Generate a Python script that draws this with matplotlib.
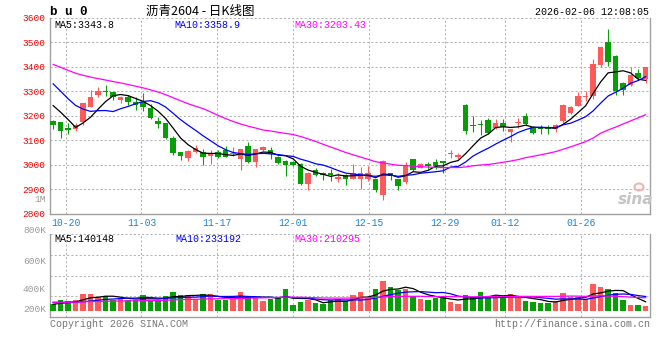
import numpy as np
import pandas as pd
import matplotlib
matplotlib.use("Agg")
import matplotlib.pyplot as plt
from matplotlib.patches import Ellipse

# 沥青2604 daily K, 80 sessions 2025-10-16 .. 2026-02-06
opens = [3180, 3172, 3149, 3146, 3173, 3234, 3286, 3302, 3298, 3263,
         3276, 3257, 3255, 3230, 3180, 3168, 3107, 3051, 3026, 3053,
         3053, 3037, 3051, 3060, 3042, 3022, 3075, 3011, 3060, 3058,
         3031, 3014, 3011, 3003, 2920, 2977, 2967, 2967, 2942, 2957,
         2943, 2943, 2940, 2943, 2877, 2965, 2940, 2930, 3022, 2986,
         3001, 3011, 3014, 3042, 3033, 3245, 3162, 3167, 3184, 3150,
         3171, 3133, 3169, 3199, 3154, 3150, 3150, 3146, 3178, 3210,
         3241, 3276, 3279, 3409, 3500, 3444, 3333, 3324, 3374, 3350]
highs = [3182, 3172, 3168, 3171, 3253, 3304, 3316, 3327, 3298, 3282,
         3283, 3275, 3293, 3249, 3195, 3168, 3115, 3051, 3058, 3079,
         3065, 3060, 3058, 3075, 3070, 3064, 3091, 3065, 3076, 3072,
         3034, 3017, 3014, 3006, 2968, 2988, 2968, 2981, 2965, 2960,
         3001, 2991, 2995, 2943, 3019, 2967, 2942, 3011, 3024, 3005,
         3012, 3022, 3016, 3058, 3049, 3247, 3198, 3184, 3191, 3188,
         3188, 3146, 3191, 3211, 3156, 3160, 3160, 3167, 3248, 3241,
         3298, 3302, 3431, 3485, 3553, 3446, 3336, 3397, 3390, 3398]
lows = [3144, 3108, 3125, 3137, 3160, 3234, 3276, 3282, 3263, 3252,
        3244, 3225, 3218, 3188, 3150, 3106, 3038, 3020, 3015, 3049,
        2999, 3001, 3028, 3030, 3035, 2978, 3008, 2992, 3056, 3024,
        3003, 2954, 2996, 2917, 2897, 2954, 2938, 2934, 2930, 2917,
        2940, 2902, 2934, 2889, 2856, 2938, 2897, 2920, 2975, 2984,
        2981, 2981, 2967, 3028, 3022, 3123, 3133, 3121, 3126, 3144,
        3137, 3092, 3150, 3160, 3126, 3126, 3126, 3133, 3171, 3205,
        3238, 3259, 3270, 3397, 3404, 3286, 3283, 3320, 3344, 3333]
closes = [3161, 3137, 3141, 3160, 3253, 3278, 3302, 3296, 3278, 3278,
          3255, 3244, 3236, 3191, 3164, 3107, 3046, 3034, 3054, 3066,
          3032, 3042, 3032, 3032, 3049, 3062, 3011, 3062, 3072, 3042,
          3005, 2999, 2999, 2920, 2965, 2958, 2958, 2958, 2951, 2940,
          2965, 2965, 2965, 2897, 3014, 2954, 2911, 2997, 2978, 3001,
          2995, 2995, 3005, 3049, 3038, 3137, 3158, 3160, 3130, 3171,
          3154, 3144, 3172, 3164, 3130, 3144, 3144, 3160, 3244, 3236,
          3280, 3282, 3412, 3480, 3421, 3299, 3306, 3367, 3352, 3397]
# volume, thousand lots
volumes_k = [109, 172, 156, 172, 265, 265, 218, 234, 172, 187,
             172, 172, 250, 172, 172, 234, 296, 250, 250, 187,
             265, 265, 172, 172, 187, 296, 218, 218, 156, 187,
             218, 343, 94, 140, 172, 125, 109, 172, 187, 156,
             250, 296, 203, 343, 468, 374, 328, 343, 234, 187,
             172, 203, 234, 140, 109, 250, 218, 296, 234, 234,
             203, 265, 203, 156, 140, 125, 125, 156, 281, 218,
             218, 187, 421, 374, 343, 281, 172, 94, 94, 78]

# sessions before 10-16, backed out of where the MA lines start at the left edge
prior_close = [3490, 3510, 3520, 3505, 3495, 3490, 3470, 3460, 3455, 3450,
               3445, 3440, 3440, 3430, 3425, 3420, 3415, 3410, 3380, 3330,
               3440, 3450, 3430, 3405, 3370, 3272, 3291, 3320, 3161]
prior_vol_k = [132, 138, 130, 135, 140, 128, 136, 134, 131, 139,
               137, 133, 135, 130, 136, 138, 134, 132, 137, 135,
               166, 160, 170, 158, 167, 104, 100, 110, 106]

date_idx = [2, 12, 22, 32, 42, 52, 60, 70]
date_labels = ["10-20", "11-03", "11-17", "12-01", "12-15", "12-29", "01-12", "01-26"]
price_ticks = [2800, 2900, 3000, 3100, 3200, 3300, 3400, 3500, 3600]

UP, DOWN = "#ff5a5a", "#06a006"
GRID = "#b4b4b4"
EDGE = "#a0a0a0"
MONO = "Liberation Mono"
plt.rcParams["font.family"] = [MONO, "DejaVu Sans"]

W, H = 660, 360
fig = plt.figure(figsize=(6.6, 3.6), dpi=100)


def box(x0, y0, x1, y1):
    return [x0 / W, 1 - y1 / H, (x1 - x0) / W, (y1 - y0) / H]


def txt(x, y, s, **kw):
    kw.setdefault("va", "center")
    fig.text(x / W, 1 - y / H, s, **kw)


o, h, l, c = map(np.array, (opens, highs, lows, closes))
vol = np.array(volumes_k) * 1000
n = len(c)
xi = np.arange(n) + 0.42
col = np.where(c >= o, UP, DOWN)

# sina's date grid runs a touch wider than the candle step
grid_x = [0.07 + 1.0104 * k for k in date_idx]

# ---- price panel
ax = fig.add_axes(box(50, 17.8, 650, 213.5))
ax.vlines(xi, l, h, colors=col, lw=0.8, zorder=3)
ax.bar(xi, np.maximum(np.abs(c - o), 3), width=0.75, bottom=np.minimum(o, c),
       color=col, lw=0, zorder=3)

cs = pd.Series(np.r_[prior_close, closes], dtype=float)
for k, mc in ((5, "black"), (10, "#0000ff"), (30, "#ff00ff")):
    ma = cs.rolling(k).mean().to_numpy()[len(prior_close):]
    ax.plot(xi, ma, color=mc, lw=0.9, zorder=4)

ax.set_xlim(0, 80)
ax.set_ylim(2800, 3600)
ax.set_xticks(grid_x, date_labels)
ax.set_yticks(price_ticks)
ax.tick_params(axis="x", length=0, pad=3.5, labelsize=7, labelcolor="#1a86d6")
ax.tick_params(axis="y", length=0, pad=3.5, labelsize=6.8, labelcolor="#ee0000")
ax.grid(True, color=GRID, lw=0.75, ls=(0, (2, 2)))
for gl in ax.get_ygridlines():
    gl.set_clip_on(False)
ax.spines["top"].set_visible(False)
for s in ("left", "right", "bottom"):
    ax.spines[s].set_color(EDGE)
    ax.spines[s].set_linewidth(1)

# ---- volume panel
axv = fig.add_axes(box(50, 234, 650, 317))
axv.bar(xi, vol, width=0.75, color=col, lw=0, zorder=3)
vs = pd.Series(np.r_[prior_vol_k, volumes_k], dtype=float) * 1000
for k, mc in ((5, "black"), (10, "#0000ff"), (30, "#ff00ff")):
    ma = vs.rolling(k).mean().to_numpy()[len(prior_vol_k):]
    axv.plot(xi, ma, color=mc, lw=0.9, zorder=4)

vlo, vhi = -93600, 1201200
axv.set_xlim(0, 80)
axv.set_ylim(vlo, vhi)
axv.set_xticks(grid_x, [])
axv.set_yticks([vlo + f * (vhi - vlo) for f in (0.25, 0.5, 0.75, 1.0)], [])
axv.tick_params(length=0)
axv.grid(True, color=GRID, lw=0.75, ls=(0, (2, 2)))
for gl in axv.get_ygridlines():
    gl.set_clip_on(False)
axv.spines["top"].set_visible(False)
for s in ("left", "right", "bottom"):
    axv.spines[s].set_color(EDGE)
    axv.spines[s].set_linewidth(1)

# ---- texts
txt(50, 12, "b u 0", fontsize=9, fontweight="bold", color="black")
txt(200, 11, "沥青2604 - 日K线图", fontsize=9, ha="center",
    family=["Noto Sans CJK SC", "DejaVu Sans"])
txt(649, 12, "2026-02-06 12:08:05", fontsize=7.2, ha="right", color="black")

txt(54, 24.5, "MA5:3343.8", fontsize=7.2, color="black")
txt(174, 24.5, "MA10:3358.9", fontsize=7.2, color="#0000ff")
txt(294, 24.5, "MA30:3203.43", fontsize=7.2, color="#ff00ff")
txt(46, 200, "1M", fontsize=6.8, ha="right", color="#9a9a9a")

txt(54, 238.5, "MA5:140148", fontsize=7.2, color="black")
txt(175, 238.5, "MA10:233192", fontsize=7.2, color="#0000ff")
txt(294, 238.5, "MA30:210295", fontsize=7.2, color="#ff00ff")
for y, s in ((230.7, "800K"), (261, "600K"), (290, "400K"), (310, "200K")):
    txt(46, y, s, fontsize=6.8, ha="right", color="#9a9a9a")

txt(50, 324, "Copyright 2026 SINA.COM", fontsize=7.2, color="#777777")
txt(650, 324, "http://finance.sina.com.cn", fontsize=7.2, ha="right", color="#777777")

# sina watermark
fig.add_artist(Ellipse((639 / W, 1 - 187 / H), 9 / W, 7 / H, fill=False,
                       ec="#f0b4b4", lw=1.5))
txt(636, 199, "sina", fontsize=11, fontweight="bold", style="italic",
    ha="center", color="#c4c4c4", family="DejaVu Sans")

fig.savefig("out.png", dpi=100, facecolor="white")
